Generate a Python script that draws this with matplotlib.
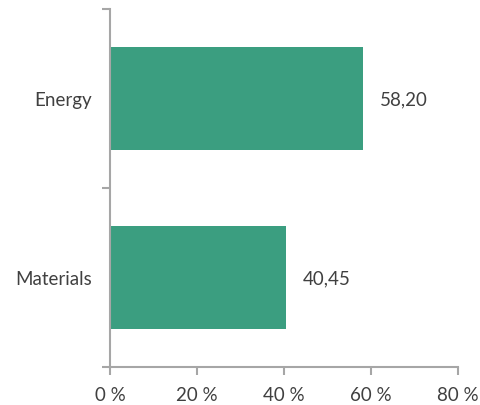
import matplotlib.pyplot as plt
from matplotlib.ticker import FixedLocator

categories = ['Materials', 'Energy']
values = [40.45, 58.20]
xticks = [0, 20, 40, 60, 80]

plt.rcParams['font.family'] = ['Lato', 'DejaVu Sans']
text_col = '#404040'
axis_col = '#a6a6a6'
fs = 13.5

fig = plt.figure(figsize=(4.81, 4.06), dpi=100)
ax = fig.add_axes([0.2287, 0.0936, 0.7233, 0.8818])

pos = list(range(len(categories)))
bars = ax.barh(pos, values, height=0.58, color='#3b9e80')

for p, v in zip(pos, values):
    ax.annotate(f'{v:.2f}'.replace('.', ','), (v, p), xytext=(12, 0),
                textcoords='offset points', va='center', ha='left',
                fontsize=fs, color=text_col)

ax.set_xlim(0, 80)
ax.set_ylim(-0.5, len(categories) - 0.5)
ax.set_xticks(xticks)
ax.set_xticklabels([f'{t} %' for t in xticks])
ax.set_yticks(pos)
ax.set_yticklabels(categories)
ax.yaxis.set_minor_locator(FixedLocator([-0.5, 0.5, 1.5]))

ax.tick_params(axis='y', which='major', length=0, pad=13, labelsize=fs, labelcolor=text_col)
ax.tick_params(axis='y', which='minor', length=6, width=1.5, color=axis_col)
ax.tick_params(axis='x', length=6, width=1.5, color=axis_col, labelsize=fs,
               labelcolor=text_col, pad=8)

for s in ['top', 'right']:
    ax.spines[s].set_visible(False)
for s in ['left', 'bottom']:
    ax.spines[s].set_color(axis_col)
    ax.spines[s].set_linewidth(1.5)

fig.savefig('out.png', dpi=100)
